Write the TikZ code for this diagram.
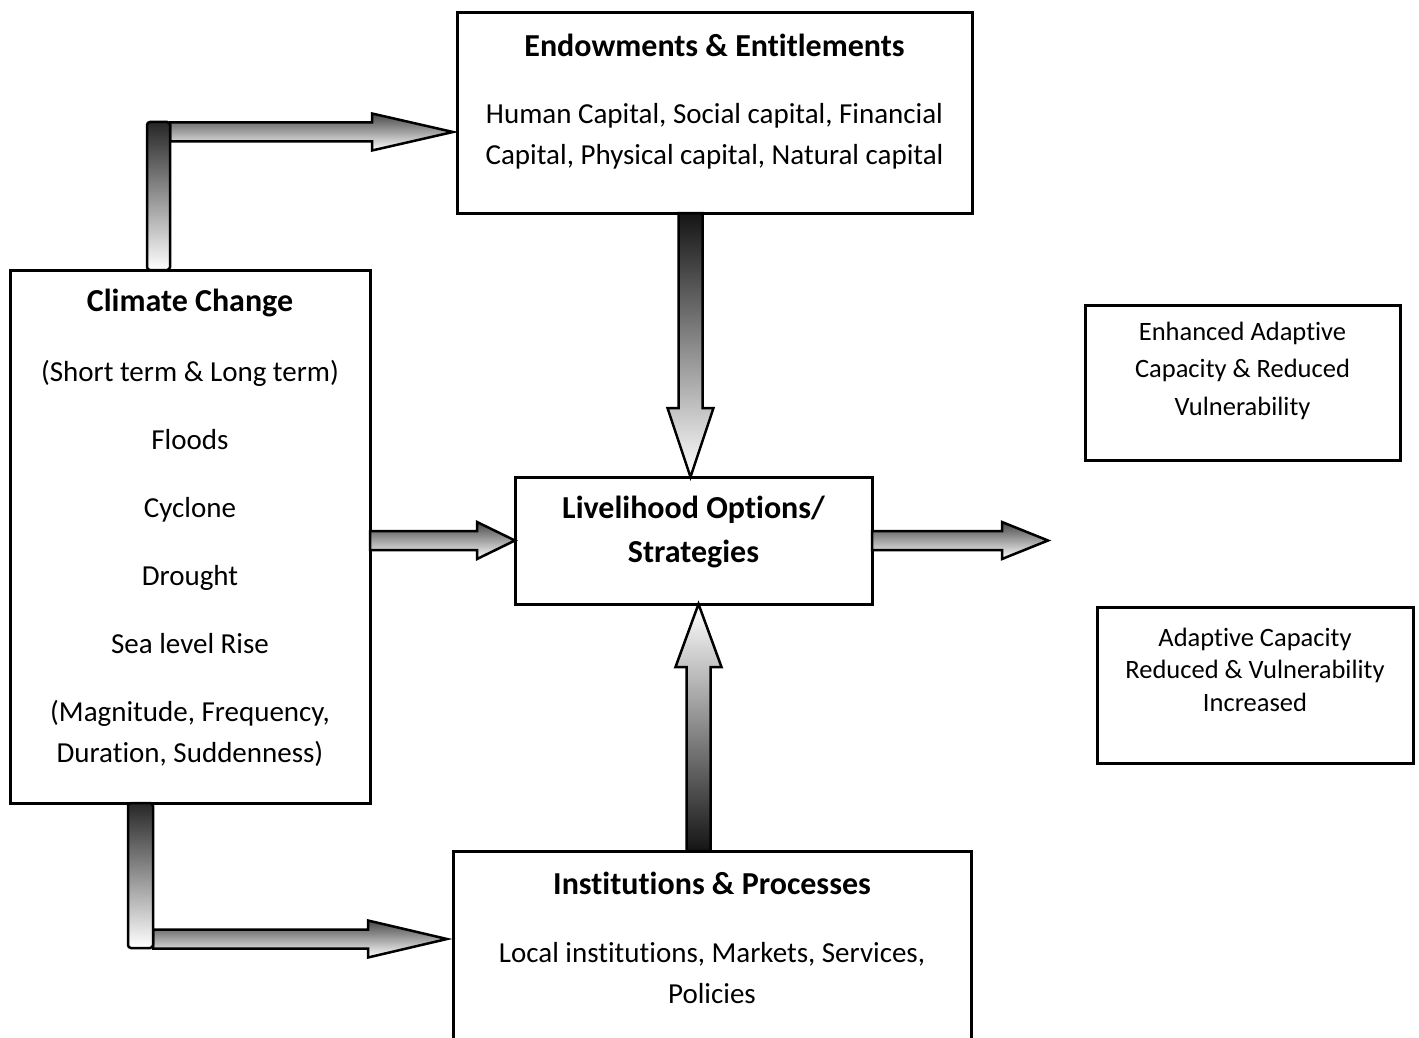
\documentclass[tikz,border=0pt]{standalone}
\usepackage{fontspec}
\setmainfont{Carlito}[Ligatures=NoCommon]
\usetikzlibrary{calc}

\tikzset{
  box/.style={draw, line width=3pt, outer sep=0pt, inner sep=0pt},
  txt/.style={align=center, inner sep=0pt, font=\fontsize{29}{41}\selectfont},
  ttl/.style={txt, font=\fontsize{32}{44}\selectfont\bfseries},
  sml/.style={align=center, inner sep=0pt, font=\fontsize{26.5}{37.5}\selectfont},
  blk/.style={draw, line width=2.5pt, line join=miter},
  hblk/.style={blk, top color=black!72, bottom color=white},
  dblk/.style={blk, top color=black!92, bottom color=white},
  ublk/.style={blk, top color=white, bottom color=black!92},
  vbar/.style={blk, rounded corners=3pt, top color=black!85, bottom color=white}
}

% block arrows: start, tip, signed head length
\newcommand{\harrow}[3]{%
  \draw[hblk] ($(#1)+(0,-9.5)$) -- ($(#2)+(#3,-9.5)$) -- ($(#2)+(#3,-18.5)$) -- (#2)
    -- ($(#2)+(#3,18.5)$) -- ($(#2)+(#3,9.5)$) -- ($(#1)+(0,9.5)$) -- cycle;}
\newcommand{\varrow}[4]{%
  \draw[#4] ($(#1)+(-12,0)$) -- ($(#2)+(-12,#3)$) -- ($(#2)+(-23,#3)$) -- (#2)
    -- ($(#2)+(23,#3)$) -- ($(#2)+(12,#3)$) -- ($(#1)+(12,0)$) -- cycle;}

\begin{document}
\begin{tikzpicture}[x=1pt, y=-1pt]
  \useasboundingbox (0,0) rectangle (1419,1038);

  % boxes
  \node[box, minimum width=515pt, minimum height=200pt] (endow) at (714.5,113) {};
  \node[box, minimum width=360pt, minimum height=533pt] (clim) at (190,536.5) {};
  \node[box, minimum width=357pt, minimum height=127pt] (live) at (693.5,540.5) {};
  \node[outer sep=0pt, minimum width=518pt, minimum height=190pt] (inst) at (712,946) {};
  \draw[line width=3pt] (inst.south west) -- (inst.north west) -- (inst.north east) -- (inst.south east);
  \node[box, minimum width=315pt, minimum height=155pt] (enh) at (1242.5,382.5) {};
  \node[box, minimum width=316pt, minimum height=156pt] (red) at (1255,685) {};

  % texts
  \node[ttl] (endowT) at (714.5,45) {Endowments \& Entitlements};
  \node[txt] (endowB) at (714.5,136) {Human Capital, Social capital, Financial\\Capital, Physical capital, Natural capital};
  \node[ttl] (climT) at (190,303) {Climate Change};
  \node[txt] (climB) at (190,563.5) {(Short term \& Long term)\\[27pt] Floods\\[27pt] Cyclone\\[27pt] Drought\\[27pt] Sea level Rise\\[27pt] (Magnitude, Frequency,\\Duration, Suddenness)};
  \node[ttl] (liveT) at (693.5,532) {Livelihood Options/\\Strategies};
  \node[ttl] (instT) at (712,883) {Institutions \& Processes};
  \node[txt] (instB) at (712,973.5) {Local institutions, Markets, Services,\\Policies};
  \node[sml] (enhT) at (1242.5,370.5) {Enhanced Adaptive\\Capacity \& Reduced\\Vulnerability};
  \node[sml, font=\fontsize{26.5}{32.5}\selectfont] (redT) at (1255,669.5) {Adaptive Capacity\\Reduced \& Vulnerability\\Increased};

  % arrows
  \coordinate (ctop) at (158.5,132);
  \coordinate (cbot) at (140.5,939);
  \coordinate (outtip) at ([xshift=176pt]live.east);
  \harrow{$(ctop)+(11.5,0)$}{[xshift=-4pt]endow.west |- ctop}{-81}
  \draw[vbar] ($(ctop)+(-11.5,-10)$) rectangle ($(clim.north -| ctop)+(11.5,0)$);
  \harrow{$(cbot)+(12.5,0)$}{[xshift=-6pt]inst.west |- cbot}{-79}
  \draw[vbar] ($(clim.south -| cbot)+(-12.5,0)$) rectangle ($(cbot)+(12.5,9)$);
  \harrow{clim.east |- live.west}{live.west}{-38}
  \harrow{live.east}{outtip}{-46}
  \varrow{[xshift=-3pt]endow.south -| live.north}{[xshift=-3pt]live.north}{-69}{dblk}
  \varrow{[xshift=5pt]inst.north -| live.south}{[xshift=5pt]live.south}{63}{ublk}
\end{tikzpicture}
\end{document}
